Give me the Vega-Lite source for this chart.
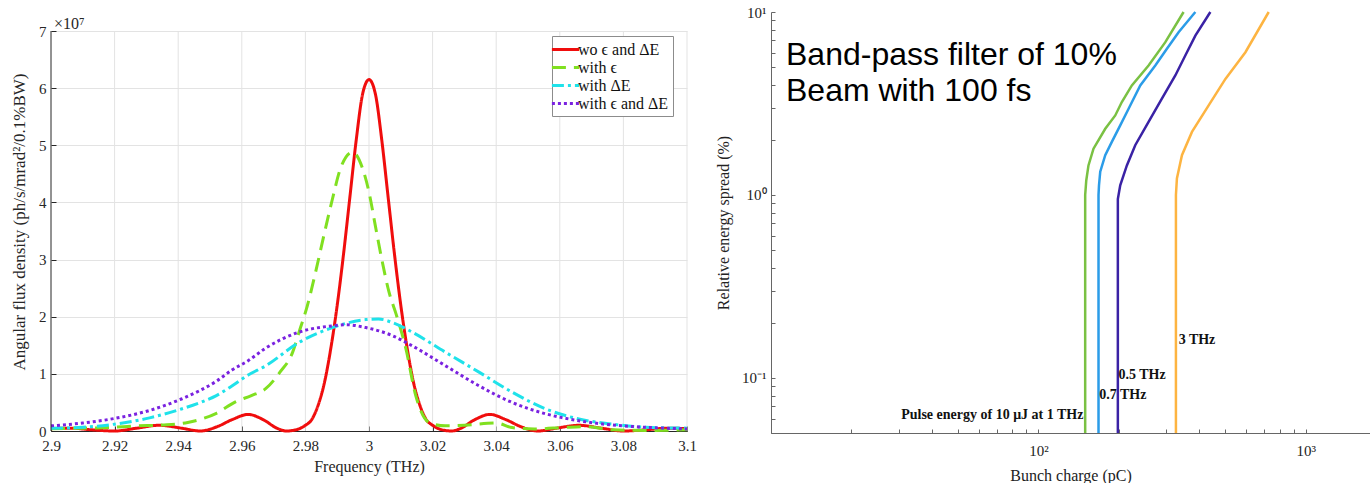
{
  "$schema": "https://vega.github.io/schema/vega-lite/v6.json",
  "background": "white",
  "padding": {"left": 10, "top": 5, "right": 0, "bottom": 0},
  "config": {
    "font": "Liberation Serif",
    "view": {"stroke": null},
    "axis": {"labelFont": "Liberation Serif", "titleFont": "Liberation Serif", "labelColor": "#262626", "titleColor": "#262626", "domainColor": "#262626", "tickColor": "#262626", "titleFontWeight": "normal", "labelFontSize": 15, "titleFontSize": 16, "labelOverlap": false},
    "concat": {"spacing": 18}
  },
  "resolve": {"scale": {"color": "independent", "strokeDash": "independent"}, "legend": {"color": "independent", "strokeDash": "independent"}},
  "datasets": {
    "flux": [
      {"s":"wo ϵ and ΔE","f":2.900,"v":0.04},{"s":"wo ϵ and ΔE","f":2.906,"v":0.05},{"s":"wo ϵ and ΔE","f":2.913,"v":0.02},{"s":"wo ϵ and ΔE","f":2.920,"v":0.0},{"s":"wo ϵ and ΔE","f":2.927,"v":0.05},{"s":"wo ϵ and ΔE","f":2.934,"v":0.1},{"s":"wo ϵ and ΔE","f":2.941,"v":0.05},{"s":"wo ϵ and ΔE","f":2.947,"v":0.0},{"s":"wo ϵ and ΔE","f":2.952,"v":0.07},{"s":"wo ϵ and ΔE","f":2.957,"v":0.2},{"s":"wo ϵ and ΔE","f":2.962,"v":0.29},{"s":"wo ϵ and ΔE","f":2.967,"v":0.19},{"s":"wo ϵ and ΔE","f":2.971,"v":0.05},{"s":"wo ϵ and ΔE","f":2.974,"v":0.0},{"s":"wo ϵ and ΔE","f":2.977,"v":0.02},{"s":"wo ϵ and ΔE","f":2.980,"v":0.1},{"s":"wo ϵ and ΔE","f":2.982,"v":0.2},{"s":"wo ϵ and ΔE","f":2.984,"v":0.45},{"s":"wo ϵ and ΔE","f":2.986,"v":0.85},{"s":"wo ϵ and ΔE","f":2.988,"v":1.45},{"s":"wo ϵ and ΔE","f":2.990,"v":2.2},{"s":"wo ϵ and ΔE","f":2.992,"v":3.1},{"s":"wo ϵ and ΔE","f":2.994,"v":4.1},{"s":"wo ϵ and ΔE","f":2.996,"v":5.1},{"s":"wo ϵ and ΔE","f":2.998,"v":5.9},{"s":"wo ϵ and ΔE","f":3.000,"v":6.15},{"s":"wo ϵ and ΔE","f":3.002,"v":5.9},{"s":"wo ϵ and ΔE","f":3.004,"v":5.1},{"s":"wo ϵ and ΔE","f":3.006,"v":4.1},{"s":"wo ϵ and ΔE","f":3.008,"v":3.1},{"s":"wo ϵ and ΔE","f":3.010,"v":2.2},{"s":"wo ϵ and ΔE","f":3.012,"v":1.45},{"s":"wo ϵ and ΔE","f":3.014,"v":0.85},{"s":"wo ϵ and ΔE","f":3.016,"v":0.45},{"s":"wo ϵ and ΔE","f":3.018,"v":0.2},{"s":"wo ϵ and ΔE","f":3.020,"v":0.1},{"s":"wo ϵ and ΔE","f":3.023,"v":0.02},{"s":"wo ϵ and ΔE","f":3.026,"v":0.0},{"s":"wo ϵ and ΔE","f":3.029,"v":0.05},{"s":"wo ϵ and ΔE","f":3.033,"v":0.19},{"s":"wo ϵ and ΔE","f":3.038,"v":0.29},{"s":"wo ϵ and ΔE","f":3.043,"v":0.2},{"s":"wo ϵ and ΔE","f":3.048,"v":0.07},{"s":"wo ϵ and ΔE","f":3.053,"v":0.0},{"s":"wo ϵ and ΔE","f":3.059,"v":0.05},{"s":"wo ϵ and ΔE","f":3.066,"v":0.1},{"s":"wo ϵ and ΔE","f":3.073,"v":0.05},{"s":"wo ϵ and ΔE","f":3.080,"v":0.0},{"s":"wo ϵ and ΔE","f":3.087,"v":0.02},{"s":"wo ϵ and ΔE","f":3.094,"v":0.05},{"s":"wo ϵ and ΔE","f":3.100,"v":0.04},
      {"s":"with ϵ","f":2.900,"v":0.04},{"s":"with ϵ","f":2.910,"v":0.05},{"s":"with ϵ","f":2.918,"v":0.06},{"s":"with ϵ","f":2.927,"v":0.09},{"s":"with ϵ","f":2.935,"v":0.105},{"s":"with ϵ","f":2.943,"v":0.15},{"s":"with ϵ","f":2.952,"v":0.31},{"s":"with ϵ","f":2.958,"v":0.51},{"s":"with ϵ","f":2.963,"v":0.62},{"s":"with ϵ","f":2.9675,"v":0.74},{"s":"with ϵ","f":2.972,"v":1.03},{"s":"with ϵ","f":2.976,"v":1.38},{"s":"with ϵ","f":2.978,"v":1.73},{"s":"with ϵ","f":2.9806,"v":2.19},{"s":"with ϵ","f":2.9832,"v":2.78},{"s":"with ϵ","f":2.9858,"v":3.42},{"s":"with ϵ","f":2.9885,"v":4.06},{"s":"with ϵ","f":2.991,"v":4.59},{"s":"with ϵ","f":2.9948,"v":4.88},{"s":"with ϵ","f":2.998,"v":4.59},{"s":"with ϵ","f":3.000,"v":4.18},{"s":"with ϵ","f":3.002,"v":3.59},{"s":"with ϵ","f":3.004,"v":3.01},{"s":"with ϵ","f":3.0063,"v":2.43},{"s":"with ϵ","f":3.0085,"v":2.05},{"s":"with ϵ","f":3.0116,"v":1.44},{"s":"with ϵ","f":3.0147,"v":0.62},{"s":"with ϵ","f":3.0189,"v":0.15},{"s":"with ϵ","f":3.024,"v":0.09},{"s":"with ϵ","f":3.030,"v":0.1},{"s":"with ϵ","f":3.040,"v":0.14},{"s":"with ϵ","f":3.045,"v":0.06},{"s":"with ϵ","f":3.052,"v":0.035},{"s":"with ϵ","f":3.062,"v":0.065},{"s":"with ϵ","f":3.068,"v":0.075},{"s":"with ϵ","f":3.077,"v":0.02},{"s":"with ϵ","f":3.087,"v":0.01},{"s":"with ϵ","f":3.100,"v":0.02},
      {"s":"with ΔE","f":2.900,"v":0.047},{"s":"with ΔE","f":2.910,"v":0.065},{"s":"with ΔE","f":2.920,"v":0.12},{"s":"with ΔE","f":2.931,"v":0.23},{"s":"with ΔE","f":2.941,"v":0.385},{"s":"with ΔE","f":2.947,"v":0.5},{"s":"with ΔE","f":2.952,"v":0.62},{"s":"with ΔE","f":2.957,"v":0.79},{"s":"with ΔE","f":2.962,"v":0.98},{"s":"with ΔE","f":2.9675,"v":1.14},{"s":"with ΔE","f":2.978,"v":1.55},{"s":"with ΔE","f":2.9885,"v":1.81},{"s":"with ΔE","f":2.999,"v":1.95},{"s":"with ΔE","f":3.003,"v":1.96},{"s":"with ΔE","f":3.0073,"v":1.9},{"s":"with ΔE","f":3.0136,"v":1.73},{"s":"with ΔE","f":3.024,"v":1.38},{"s":"with ΔE","f":3.0346,"v":1.03},{"s":"with ΔE","f":3.045,"v":0.68},{"s":"with ΔE","f":3.0556,"v":0.385},{"s":"with ΔE","f":3.066,"v":0.21},{"s":"with ΔE","f":3.0765,"v":0.12},{"s":"with ΔE","f":3.087,"v":0.065},{"s":"with ΔE","f":3.100,"v":0.05},
      {"s":"with ϵ and ΔE","f":2.900,"v":0.09},{"s":"with ϵ and ΔE","f":2.910,"v":0.14},{"s":"with ϵ and ΔE","f":2.920,"v":0.22},{"s":"with ϵ and ΔE","f":2.931,"v":0.36},{"s":"with ϵ and ΔE","f":2.941,"v":0.56},{"s":"with ϵ and ΔE","f":2.9465,"v":0.7},{"s":"with ϵ and ΔE","f":2.952,"v":0.87},{"s":"with ϵ and ΔE","f":2.957,"v":1.07},{"s":"with ϵ and ΔE","f":2.962,"v":1.23},{"s":"with ϵ and ΔE","f":2.9675,"v":1.45},{"s":"with ϵ and ΔE","f":2.978,"v":1.73},{"s":"with ϵ and ΔE","f":2.9885,"v":1.84},{"s":"with ϵ and ΔE","f":2.9927,"v":1.86},{"s":"with ϵ and ΔE","f":2.999,"v":1.81},{"s":"with ϵ and ΔE","f":3.0073,"v":1.67},{"s":"with ϵ and ΔE","f":3.0136,"v":1.49},{"s":"with ϵ and ΔE","f":3.0241,"v":1.14},{"s":"with ϵ and ΔE","f":3.0346,"v":0.79},{"s":"with ϵ and ΔE","f":3.045,"v":0.5},{"s":"with ϵ and ΔE","f":3.0556,"v":0.3},{"s":"with ϵ and ΔE","f":3.066,"v":0.18},{"s":"with ϵ and ΔE","f":3.0765,"v":0.105},{"s":"with ϵ and ΔE","f":3.087,"v":0.065},{"s":"with ϵ and ΔE","f":3.100,"v":0.035}
    ],
    "thz": [
      {"c":"1 THz","q":149.6,"e":0.05},{"c":"1 THz","q":149.6,"e":1.0},{"c":"1 THz","q":151.0,"e":1.2},{"c":"1 THz","q":153.9,"e":1.45},{"c":"1 THz","q":160.7,"e":1.79},{"c":"1 THz","q":177.8,"e":2.3},{"c":"1 THz","q":193.8,"e":2.72},{"c":"1 THz","q":205.1,"e":3.22},{"c":"1 THz","q":223.6,"e":3.97},{"c":"1 THz","q":258.2,"e":5.1},{"c":"1 THz","q":298.3,"e":6.84},{"c":"1 THz","q":349.1,"e":10},
      {"c":"0.7 THz","q":167.8,"e":0.05},{"c":"0.7 THz","q":167.8,"e":1.0},{"c":"0.7 THz","q":168.5,"e":1.13},{"c":"0.7 THz","q":170.3,"e":1.34},{"c":"0.7 THz","q":177.8,"e":1.65},{"c":"0.7 THz","q":188.2,"e":1.95},{"c":"0.7 THz","q":202.3,"e":2.4},{"c":"0.7 THz","q":217.4,"e":2.96},{"c":"0.7 THz","q":240.4,"e":3.97},{"c":"0.7 THz","q":273.6,"e":5.1},{"c":"0.7 THz","q":302.4,"e":6.29},{"c":"0.7 THz","q":334.4,"e":7.75},{"c":"0.7 THz","q":386.3,"e":10},
      {"c":"0.5 THz","q":198.2,"e":0.05},{"c":"0.5 THz","q":198.2,"e":0.95},{"c":"0.5 THz","q":202.3,"e":1.13},{"c":"0.5 THz","q":214.2,"e":1.45},{"c":"0.5 THz","q":230.2,"e":1.87},{"c":"0.5 THz","q":258.2,"e":2.51},{"c":"0.5 THz","q":289.6,"e":3.36},{"c":"0.5 THz","q":325.1,"e":4.5},{"c":"0.5 THz","q":354.3,"e":5.78},{"c":"0.5 THz","q":386.3,"e":7.43},{"c":"0.5 THz","q":439.6,"e":10},
      {"c":"3 THz","q":326.8,"e":0.05},{"c":"3 THz","q":326.8,"e":1.0},{"c":"3 THz","q":329.6,"e":1.23},{"c":"3 THz","q":344.2,"e":1.65},{"c":"3 THz","q":375.2,"e":2.21},{"c":"3 THz","q":433.2,"e":3.09},{"c":"3 THz","q":500.5,"e":4.31},{"c":"3 THz","q":594.6,"e":6.03},{"c":"3 THz","q":726.6,"e":10}
    ]
  },
  "hconcat": [
    {
      "width": 636,
      "height": 419,
      "layer": [
        {
          "data": {"values": [{"f": 2.92}, {"f": 2.94}, {"f": 2.96}, {"f": 2.98}, {"f": 3.0}, {"f": 3.02}, {"f": 3.04}, {"f": 3.06}, {"f": 3.08}, {"f": 3.1}]},
          "mark": {"type": "rule", "color": "#e3e3e3", "strokeWidth": 1},
          "encoding": {
            "x": {"field": "f", "type": "quantitative", "scale": {"domain": [2.9, 3.1], "nice": false, "zero": false},
                  "axis": {"title": "Frequency (THz)", "values": [2.9,2.92,2.94,2.96,2.98,3,3.02,3.04,3.06,3.08,3.1], "format": ".2~f", "grid": false, "tickSize": -5, "labelPadding": 12, "titlePadding": 5, "labelFlush": false}},
            "y": {"datum": 0, "type": "quantitative", "scale": {"domain": [0, 7.3325], "nice": false},
                  "axis": {"title": "Angular flux density (ph/s/mrad²/0.1%BW)", "titleFontSize": 17, "values": [0,1,2,3,4,5,6,7], "format": "~g", "grid": true, "gridColor": "#e3e3e3", "domain": false, "tickSize": -5, "labelPadding": 10, "titlePadding": 10}},
            "y2": {"datum": 7}
          }
        },
        {
          "data": {"name": "flux"},
          "mark": {"type": "line", "interpolate": "monotone", "strokeWidth": 3, "strokeCap": "butt"},
          "encoding": {
            "x": {"field": "f", "type": "quantitative"},
            "y": {"field": "v", "type": "quantitative"},
            "color": {"field": "s", "type": "nominal",
                      "scale": {"domain": ["wo ϵ and ΔE", "with ϵ", "with ΔE", "with ϵ and ΔE"], "range": ["#f00d0d", "#80e020", "#1fe2ea", "#7a22e0"]},
                      "legend": {"title": null, "orient": "none", "legendX": 501, "legendY": 24, "fillColor": "white", "strokeColor": "#8c8c8c", "padding": 4, "symbolType": "M-1.7,0H1.7", "symbolSize": 256, "symbolStrokeWidth": 3, "labelFont": "Liberation Serif", "labelFontSize": 16, "labelColor": "#111", "rowPadding": 0, "labelOffset": 3}},
            "strokeDash": {"field": "s", "type": "nominal",
                      "scale": {"domain": ["wo ϵ and ΔE", "with ϵ", "with ΔE", "with ϵ and ΔE"], "range": [[1, 0], [14, 8], [12, 4, 3, 4], [3, 3]]},
                      "legend": {"title": null, "orient": "none", "legendX": 501, "legendY": 24, "fillColor": "white", "strokeColor": "#8c8c8c", "padding": 4, "symbolType": "M-1.7,0H1.7", "symbolSize": 256, "symbolStrokeWidth": 3, "labelFont": "Liberation Serif", "labelFontSize": 16, "labelColor": "#111", "rowPadding": 0, "labelOffset": 3}}
          }
        },
        {
          "data": {"values": [{"f": 2.9}]},
          "mark": {"type": "rule", "color": "#262626", "strokeWidth": 1},
          "encoding": {"x": {"field": "f", "type": "quantitative"}, "y": {"datum": 0, "type": "quantitative"}, "y2": {"datum": 7}}
        },
        {
          "data": {"values": [{"f": 2.9, "v": 7.04, "t": "×10⁷"}]},
          "mark": {"type": "text", "align": "left", "baseline": "alphabetic", "dx": 3, "font": "Liberation Serif", "fontSize": 16, "color": "#262626"},
          "encoding": {"x": {"field": "f", "type": "quantitative"}, "y": {"field": "v", "type": "quantitative"}, "text": {"field": "t"}}
        }
      ]
    },
    {
      "width": 599,
      "height": 421,
      "layer": [
        {
          "data": {"name": "thz"},
          "mark": {"type": "line", "strokeWidth": 2.5},
          "encoding": {
            "x": {"field": "q", "type": "quantitative", "scale": {"type": "log", "domain": [10, 1738], "nice": false},
                  "axis": {"title": "Bunch charge (pC)", "values": [10,20,30,40,50,60,70,80,90,100,200,300,400,500,600,700,800,900,1000], "labelExpr": "datum.value == 100 ? '10²' : datum.value == 1000 ? '10³' : ''", "grid": false, "tickSize": -4, "labelPadding": 14, "titlePadding": 9, "domainColor": "#666", "tickColor": "#666", "labelColor": "#222", "titleColor": "#222"}},
            "y": {"field": "e", "type": "quantitative", "scale": {"type": "log", "domain": [0.05, 10], "nice": false},
                  "axis": {"title": "Relative energy spread (%)", "values": [0.05,0.06,0.07,0.08,0.09,0.1,0.2,0.3,0.4,0.5,0.6,0.7,0.8,0.9,1,2,3,4,5,6,7,8,9,10], "labelExpr": "datum.value == 0.1 ? '10⁻¹' : datum.value == 1 ? '10⁰' : datum.value == 10 ? '10¹' : ''", "grid": false, "tickSize": -4, "labelPadding": 9, "titlePadding": 10, "domainColor": "#666", "tickColor": "#666", "labelColor": "#222", "titleColor": "#222"}},
            "color": {"field": "c", "type": "nominal", "scale": {"domain": ["1 THz", "0.7 THz", "0.5 THz", "3 THz"], "range": ["#7ac143", "#2b9ce8", "#3a22a5", "#fdb441"]}, "legend": null},
            "order": {"field": "e", "type": "quantitative"}
          }
        },
        {
          "mark": {"type": "rule", "color": "#8c8c8c", "strokeWidth": 1},
          "encoding": {"y": {"datum": 10}}
        },
        {
          "data": {"values": [{"x": 11.38, "y": 5.14, "t": "Band-pass filter of 10%"}, {"x": 11.38, "y": 3.27, "t": "Beam with 100 fs"}]},
          "mark": {"type": "text", "align": "left", "baseline": "alphabetic", "font": "Liberation Sans", "fontSize": 32, "color": "#000"},
          "encoding": {"x": {"field": "x", "type": "quantitative"}, "y": {"field": "y", "type": "quantitative"}, "text": {"field": "t"}}
        },
        {
          "data": {"values": [{"x": 334.5, "y": 0.1617, "t": "3 THz"}, {"x": 199.3, "y": 0.1038, "t": "0.5 THz"}, {"x": 168.8, "y": 0.0811, "t": "0.7 THz"}]},
          "mark": {"type": "text", "align": "left", "baseline": "middle", "font": "Liberation Serif", "fontWeight": "bold", "fontSize": 14, "color": "#111"},
          "encoding": {"x": {"field": "x", "type": "quantitative"}, "y": {"field": "y", "type": "quantitative"}, "text": {"field": "t"}}
        },
        {
          "data": {"values": [{"x": 147.4, "y": 0.0631, "t": "Pulse energy of 10 μJ at 1 THz"}]},
          "mark": {"type": "text", "align": "right", "baseline": "middle", "font": "Liberation Serif", "fontWeight": "bold", "fontSize": 14, "color": "#111"},
          "encoding": {"x": {"field": "x", "type": "quantitative"}, "y": {"field": "y", "type": "quantitative"}, "text": {"field": "t"}}
        }
      ]
    }
  ]
}
